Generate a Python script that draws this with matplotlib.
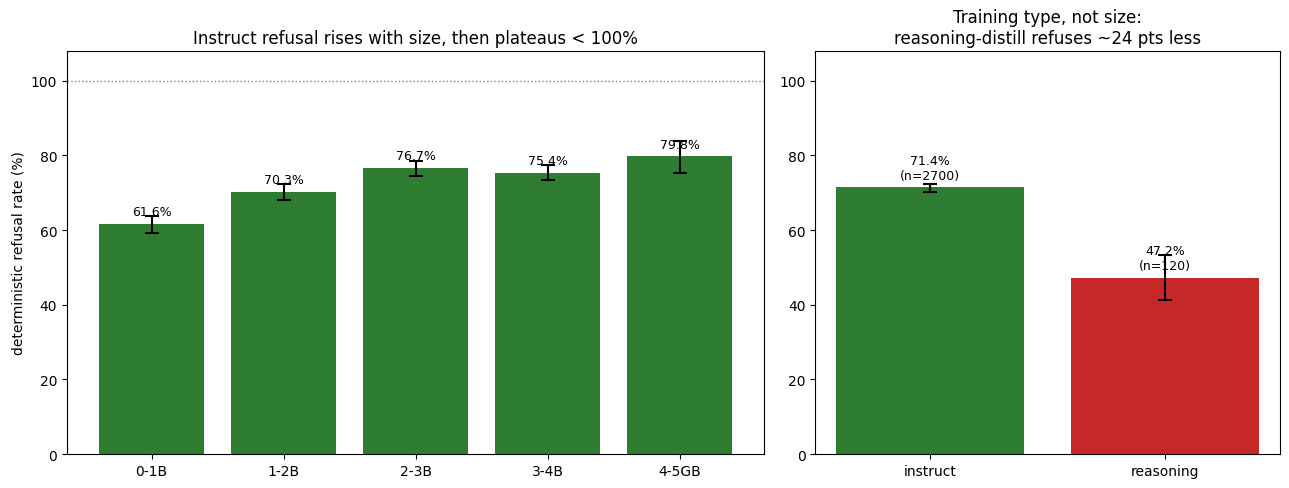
import numpy as np
import matplotlib
matplotlib.use('Agg')
import matplotlib.pyplot as plt

# size buckets (instruct models)
size_labels = ['0-1B', '1-2B', '2-3B', '3-4B', '4-5GB']
size_rates = [61.6, 70.3, 76.7, 75.4, 79.8]
size_err_lo = [2.4, 2.2, 2.1, 2.0, 4.5]
size_err_hi = [2.2, 2.0, 1.8, 2.0, 4.0]

# training type
type_labels = ['instruct', 'reasoning']
type_rates = [71.4, 47.2]
type_n = [2700, 120]
type_err_lo = [1.1, 6.0]
type_err_hi = [1.0, 6.1]
type_colors = ['#2e7d32', '#c62828']

green = '#2e7d32'

fig, (ax0, ax1) = plt.subplots(1, 2, figsize=(12.89, 4.89),
                               gridspec_kw={'width_ratios': [1.5, 1]})
fig.subplots_adjust(left=0.052, right=0.993, bottom=0.0695, top=0.894, wspace=0.088)

x0 = np.arange(len(size_labels))
ax0.bar(x0, size_rates, width=0.8, color=green,
        yerr=[size_err_lo, size_err_hi], capsize=5,
        error_kw={'elinewidth': 1.5, 'capthick': 1.5})
for xi, r in zip(x0, size_rates):
    ax0.text(xi, r + 1.5, f'{r:.1f}%', ha='center', va='bottom', fontsize=9)
ax0.axhline(100, color='gray', linestyle=':', linewidth=1)
ax0.set_xticks(x0)
ax0.set_xticklabels(size_labels)
ax0.set_ylim(0, 108)
ax0.set_ylabel('deterministic refusal rate (%)')
ax0.set_title('Instruct refusal rises with size, then plateaus < 100%')

x1 = np.arange(len(type_labels))
ax1.bar(x1, type_rates, width=0.8, color=type_colors,
        yerr=[type_err_lo, type_err_hi], capsize=5,
        error_kw={'elinewidth': 1.5, 'capthick': 1.5})
for xi, r, n in zip(x1, type_rates, type_n):
    ax1.text(xi, r + 1.5, f'{r:.1f}%\n(n={n})', ha='center', va='bottom', fontsize=9)
ax1.set_xticks(x1)
ax1.set_xticklabels(type_labels)
ax1.set_ylim(0, 108)
ax1.set_title('Training type, not size:\nreasoning-distill refuses ~24 pts less')

plt.savefig('out.png', dpi=100)
